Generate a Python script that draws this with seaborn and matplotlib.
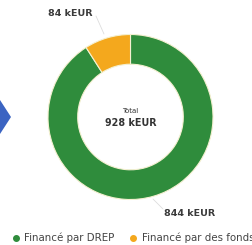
import matplotlib
matplotlib.use("Agg")
import matplotlib.pyplot as plt
import seaborn as sns
from matplotlib.patches import Polygon
from matplotlib.lines import Line2D

sns.set_theme(style="white")
plt.rcParams['font.family'] = ['DejaVu Sans']

categories = ["Financé par DREP", "Financé par des fonds propres"]
values = [844, 84]
value_labels = ["844 kEUR", "84 kEUR"]
total_label = "928 kEUR"
colors = ["#2f8c3c", "#f4a81d"]

W, H = 252, 245
fig = plt.figure(figsize=(W / 100, H / 100), dpi=100)
fig.patch.set_facecolor("white")

# pie axes: center (130.5,117) px, radius 82.5 px
cx, cy, R = 130.5, 117, 82.5
ax = fig.add_axes([(cx - R) / W, (H - cy - R) / H, 2 * R / W, 2 * R / H])
wedges, _ = ax.pie(values, colors=colors, startangle=90, counterclock=False,
                   radius=1.0, wedgeprops=dict(width=0.36, edgecolor="#f4f0d0", linewidth=0.8))
ax.set_xlim(-1, 1)
ax.set_ylim(-1, 1)
ax.set_aspect("equal")
ax.axis("off")

# center text
ax.text(0, 0.07, "Total", ha="center", va="center", fontsize=5, color="#333333")
ax.text(0, -0.075, total_label, ha="center", va="center", fontsize=6.9,
        fontweight="bold", color="#333333")

def px(x, y):
    return ((x - cx) / R, (cy - y) / R)

# labels with faint leader lines
x1, y1 = px(70, 14)
ax.text(x1, y1, value_labels[1], ha="center", va="center", fontsize=6.8,
        fontweight="bold", color="#3a3a3a", clip_on=False)
l = px(96, 16); l2 = px(104, 34)
ax.plot([l[0], l2[0]], [l[1], l2[1]], color="#dddddd", lw=0.6, clip_on=False)

x2, y2 = px(190, 213)
ax.text(x2, y2, value_labels[0], ha="center", va="center", fontsize=6.8,
        fontweight="bold", color="#3a3a3a", clip_on=False)
l = px(163, 209); l2 = px(153, 199)
ax.plot([l[0], l2[0]], [l[1], l2[1]], color="#dddddd", lw=0.6, clip_on=False)

# blue chevron on the left edge
fig.patches.append(Polygon([(0, H - 100), (11, H - 117), (0, H - 134)], closed=True,
                           transform=None, facecolor="#3b64c2", edgecolor="none"))

# legend
handles = [Line2D([0], [0], marker="o", linestyle="", markersize=4,
                  markerfacecolor=c, markeredgecolor=c) for c in colors]
fig.legend(handles, categories, loc="lower left", bbox_to_anchor=(0.005, -0.03),
           ncol=2, frameon=False, fontsize=7.4, handletextpad=0.35, columnspacing=1.3,
           labelcolor="#444444", handlelength=1.0)

fig.savefig("out.png", dpi=100, facecolor="white")
